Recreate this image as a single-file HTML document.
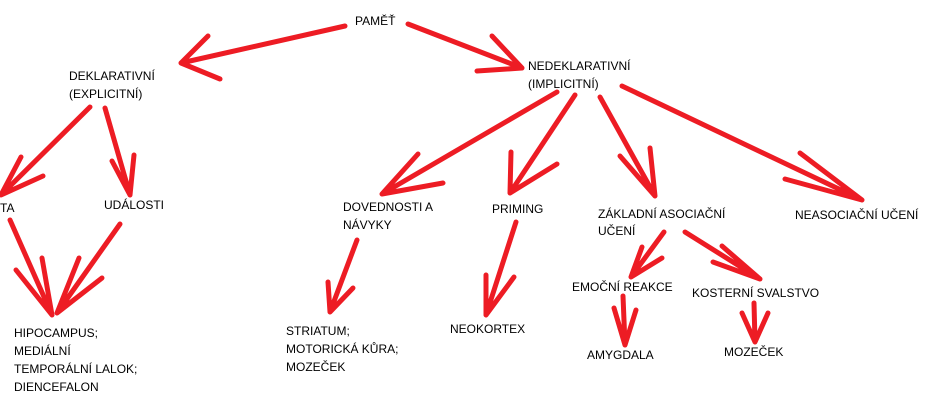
<!DOCTYPE html>
<html><head><meta charset="utf-8"><style>
html,body{margin:0;padding:0;background:#fff;width:927px;height:411px;overflow:hidden}
svg text{font-family:"Liberation Sans",sans-serif;font-size:12px;fill:#000}
</style></head><body>
<svg width="927" height="411" viewBox="0 0 927 411" xmlns="http://www.w3.org/2000/svg">
<g fill="none" stroke="#ed1c24" stroke-width="5" stroke-linecap="round" stroke-linejoin="round">
<path d="M345,26 L181,63 M208,36 L181,63 L220,79"/>
<path d="M408,24 L522,68 M492,36 L522,68 L477,71"/>
<path d="M90,107 L1,195 M21,157 L1,195 L43,176"/>
<path d="M105,108 L130,195 M112,161 L130,195 L134,155"/>
<path d="M10,220 L52,315 M16,270 L52,315 L42,258"/>
<path d="M120,224 L57,313 M79,258 L57,313 L102,278"/>
<path d="M557,92 L382,194 M418,154 L382,194 L443,183"/>
<path d="M575,95 L510,193 M511,152 L510,193 L557,164"/>
<path d="M600,97 L655,196 M620,156 L655,196 L650,148"/>
<path d="M622,86 L862,200 M800,153 L862,200 L785,179"/>
<path d="M357,240 L330,312 M328,282 L330,312 L353,288"/>
<path d="M516,222 L486,315 M486,275 L486,315 L514,277"/>
<path d="M664,232 L631,277 M642,247 L631,277 L662,258"/>
<path d="M685,232 L760,279 M722,246 L760,279 L713,262"/>
<path d="M623,296 L625,345 M614,308 L625,345 L636,310"/>
<path d="M754,303 L755,342 M742,313 L755,342 L768,313"/>
</g>
<text x="355" y="25">PAMĚŤ</text>
<text x="69" y="80">DEKLARATIVNÍ</text>
<text x="69" y="98">(EXPLICITNÍ)</text>
<text x="528" y="70">NEDEKLARATIVNÍ</text>
<text x="528" y="88">(IMPLICITNÍ)</text>
<text x="0" y="212">TA</text>
<text x="104" y="209">UDÁLOSTI</text>
<text x="343" y="211">DOVEDNOSTI A</text>
<text x="343" y="229">NÁVYKY</text>
<text x="492" y="213">PRIMING</text>
<text x="598" y="218">ZÁKLADNÍ ASOCIAČNÍ</text>
<text x="598" y="235">UČENÍ</text>
<text x="795" y="219">NEASOCIAČNÍ UČENÍ</text>
<text x="14" y="337">HIPOCAMPUS;</text>
<text x="14" y="355">MEDIÁLNÍ</text>
<text x="14" y="373">TEMPORÁLNÍ LALOK;</text>
<text x="14" y="391">DIENCEFALON</text>
<text x="286" y="335">STRIATUM;</text>
<text x="286" y="353">MOTORICKÁ KŮRA;</text>
<text x="286" y="371">MOZEČEK</text>
<text x="450" y="333">NEOKORTEX</text>
<text x="572" y="291">EMOČNÍ REAKCE</text>
<text x="692" y="297">KOSTERNÍ SVALSTVO</text>
<text x="587" y="359">AMYGDALA</text>
<text x="724" y="356">MOZEČEK</text>
</svg>
</body></html>
